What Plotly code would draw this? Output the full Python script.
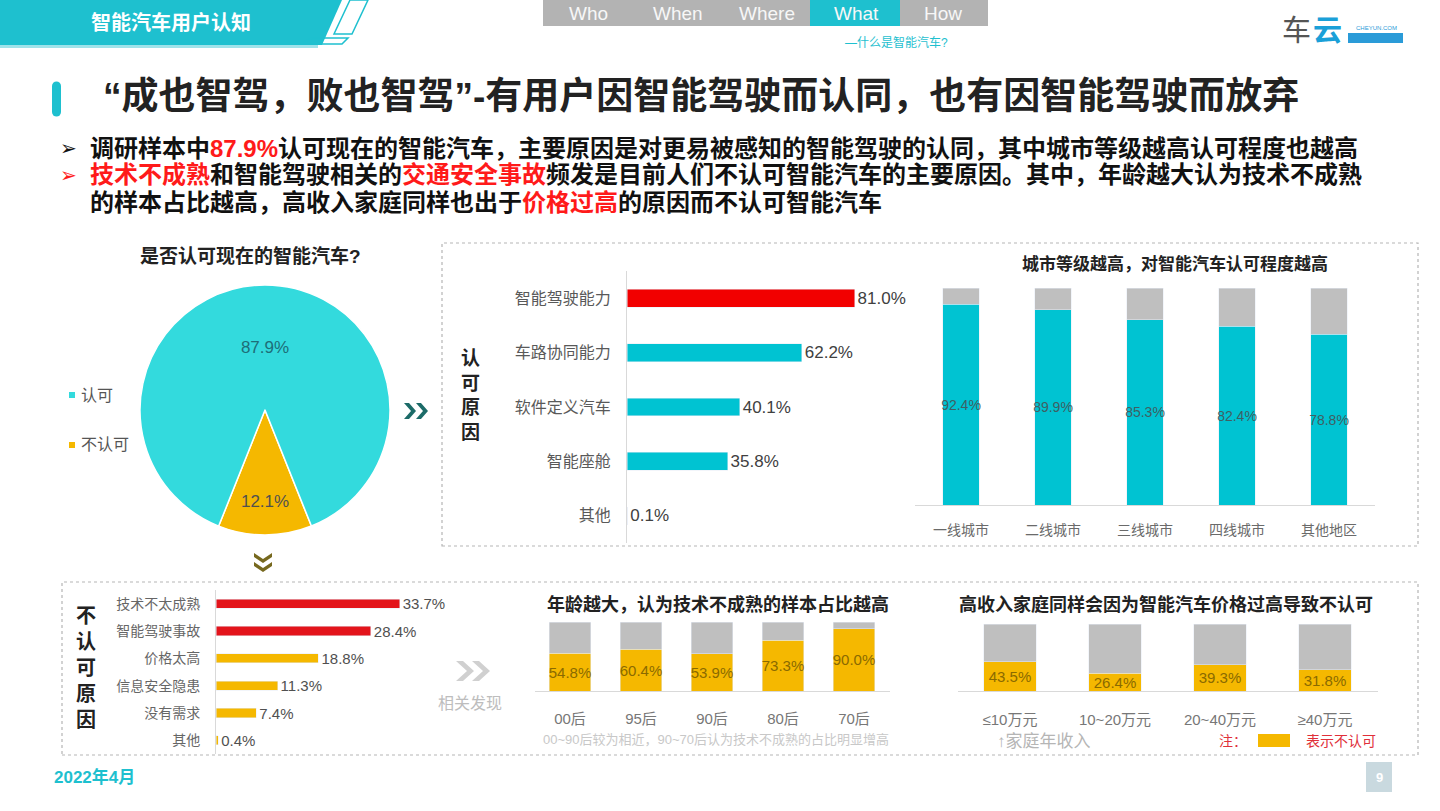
import plotly.graph_objects as go

# ---------------- data ----------------
pie_labels = ["不认可", "认可"]
pie_values = [12.1, 87.9]

approve_reasons = ["智能驾驶能力", "车路协同能力", "软件定义汽车", "智能座舱", "其他"]
approve_values = [81.0, 62.2, 40.1, 35.8, 0.1]

city_cats = ["一线城市", "二线城市", "三线城市", "四线城市", "其他地区"]
city_values = [92.4, 89.9, 85.3, 82.4, 78.8]

reject_reasons = ["技术不太成熟", "智能驾驶事故", "价格太高", "信息安全隐患", "没有需求", "其他"]
reject_values = [33.7, 28.4, 18.8, 11.3, 7.4, 0.4]

age_cats = ["00后", "95后", "90后", "80后", "70后"]
age_values = [54.8, 60.4, 53.9, 73.3, 90.0]

income_cats = ["≤10万元", "10~20万元", "20~40万元", "≥40万元"]
income_values = [43.5, 26.4, 39.3, 31.8]

nav_tabs = ["Who", "When", "Where", "What", "How"]

# ---------------- style ----------------
W, H = 1440, 811
FONT = "Liberation Sans, Noto Sans CJK SC, sans-serif"
TEAL = "#00C3D2"
PIE_TEAL = "#33DADD"
HEAD_TEAL = "#1EC0CF"
YEL = "#F5B800"
RED = "#F20000"
RED2 = "#E3141B"
GRAY = "#BFBFBF"
TXT_YEL = "#8A6A00"


def px(x):
    return x / W


def py(y):
    return 1 - y / H


fig = go.Figure()

# pie
fig.add_trace(go.Pie(
    labels=pie_labels, values=pie_values, sort=False, direction="clockwise",
    rotation=158.2,
    marker=dict(colors=[YEL, PIE_TEAL], line=dict(color="white", width=1.5)),
    texttemplate="%{value:.1f}%", textposition="inside",
    insidetextorientation="horizontal",
    textfont=dict(family=FONT, size=17, color=["#505050", "#1E6E78"]),
    domain=dict(x=[px(140), px(390)], y=[py(535), py(285)]),
    showlegend=False, hoverinfo="skip"))

# approve reasons
fig.add_trace(go.Bar(
    y=approve_reasons, x=approve_values, orientation="h",
    marker_color=[RED] + [TEAL] * (len(approve_values) - 1), width=0.33,
    texttemplate="%{x:.1f}%", textposition="outside", cliponaxis=False,
    constraintext="none",
    textfont=dict(family=FONT, size=17, color="#404040"),
    xaxis="x", yaxis="y", showlegend=False, hoverinfo="skip"))

# city
fig.add_trace(go.Bar(
    x=city_cats, y=city_values, marker_color=TEAL, width=0.4,
    texttemplate="%{y:.1f}%", textposition="inside", insidetextanchor="middle",
    textangle=0, constraintext="none",
    textfont=dict(family=FONT, size=14, color="#3F5F63"),
    xaxis="x2", yaxis="y2", showlegend=False, hoverinfo="skip"))
fig.add_trace(go.Bar(
    x=city_cats, y=[100 - v for v in city_values], marker_color=GRAY, width=0.4,
    xaxis="x2", yaxis="y2", showlegend=False, hoverinfo="skip"))

# reject reasons
fig.add_trace(go.Bar(
    y=reject_reasons, x=reject_values, orientation="h",
    marker_color=[RED2, RED2] + [YEL] * (len(reject_values) - 2), width=0.33,
    texttemplate="%{x:.1f}%", textposition="outside", cliponaxis=False,
    constraintext="none",
    textfont=dict(family=FONT, size=15, color="#505050"),
    xaxis="x3", yaxis="y3", showlegend=False, hoverinfo="skip"))

# age
fig.add_trace(go.Bar(
    x=age_cats, y=age_values, marker_color=YEL, width=0.59,
    texttemplate="%{y:.1f}%", textposition="inside", insidetextanchor="middle",
    textangle=0, constraintext="none",
    textfont=dict(family=FONT, size=15, color=TXT_YEL),
    xaxis="x4", yaxis="y4", showlegend=False, hoverinfo="skip"))
fig.add_trace(go.Bar(
    x=age_cats, y=[100 - v for v in age_values], marker_color=GRAY, width=0.59,
    xaxis="x4", yaxis="y4", showlegend=False, hoverinfo="skip"))

# income
fig.add_trace(go.Bar(
    x=income_cats, y=income_values, marker_color=YEL, width=0.5,
    texttemplate="%{y:.1f}%", textposition="inside", insidetextanchor="middle",
    textangle=0, constraintext="none",
    textfont=dict(family=FONT, size=15, color=TXT_YEL),
    xaxis="x5", yaxis="y5", showlegend=False, hoverinfo="skip"))
fig.add_trace(go.Bar(
    x=income_cats, y=[100 - v for v in income_values], marker_color=GRAY, width=0.5,
    xaxis="x5", yaxis="y5", showlegend=False, hoverinfo="skip"))

hidden = dict(showgrid=False, zeroline=False, showticklabels=False, showline=False, ticks="")
TR = "rgba(0,0,0,0)"


def cat_y(domain, size, color, anchor):
    return dict(domain=domain, autorange="reversed", showline=True, linecolor="#D9D9D9",
                linewidth=1, ticks="outside", ticklen=12, tickcolor=TR, showgrid=False,
                zeroline=False, tickfont=dict(family=FONT, size=size, color=color), anchor=anchor,
                fixedrange=True)


def cat_x(domain, size, color, anchor, tl):
    return dict(domain=domain, showline=True, linecolor="#D9D9D9", linewidth=1,
                ticks="outside", ticklen=tl, tickcolor=TR, showgrid=False, zeroline=False,
                tickfont=dict(family=FONT, size=size, color=color), anchor=anchor,
                fixedrange=True)


fig.update_layout(
    width=W, height=H, margin=dict(l=0, r=0, t=0, b=0),
    paper_bgcolor="white", plot_bgcolor="rgba(0,0,0,0)",
    barmode="stack", font=dict(family=FONT),
    xaxis=dict(domain=[px(627), px(908)], range=[0, 100], anchor="y", **hidden),
    yaxis=cat_y([py(543), py(271)], 16, "#595959", "x"),
    xaxis2=cat_x([px(915), px(1375)], 14, "#6A6A6A", "y2", 12),
    yaxis2=dict(domain=[py(505), py(288)], range=[0, 100], anchor="x2", **hidden),
    xaxis3=dict(domain=[px(216), px(434)], range=[0, 40], anchor="y3", **hidden),
    yaxis3=cat_y([py(754), py(590)], 14, "#666666", "x3"),
    xaxis4=cat_x([px(534.5), px(889.5)], 15, "#777777", "y4", 14),
    yaxis4=dict(domain=[py(691), py(622)], range=[0, 100], anchor="x4", **hidden),
    xaxis5=cat_x([px(957.5), px(1377.5)], 15, "#777777", "y5", 15),
    yaxis5=dict(domain=[py(691), py(624)], range=[0, 100], anchor="x5", **hidden),
)

shapes = []


def rect(x0, y0, x1, y1, fill, line=None, dash=None, lw=1, layer="below"):
    d = dict(type="rect", xref="paper", yref="paper", x0=px(x0), x1=px(x1), y0=py(y1), y1=py(y0),
             fillcolor=fill, layer=layer)
    if line:
        d["line"] = dict(color=line, width=lw, dash=dash) if dash else dict(color=line, width=lw)
    else:
        d["line"] = dict(width=0)
    shapes.append(d)


def path(pts, fill=None, line=None, lw=1, closed=True):
    s = "M " + " L ".join(f"{px(a):.5f},{py(b):.5f}" for a, b in pts) + (" Z" if closed else "")
    d = dict(type="path", xref="paper", yref="paper", path=s, layer="above")
    d["fillcolor"] = fill if fill else TR
    d["line"] = dict(color=line, width=lw) if line else dict(width=0)
    shapes.append(d)


def circle(xc, yc, r, fill):
    shapes.append(dict(type="circle", xref="paper", yref="paper", x0=px(xc - r), x1=px(xc + r),
                       y0=py(yc + r), y1=py(yc - r), fillcolor=fill, line=dict(width=0)))


def chev_right(x0, yc, w, h, t, color):
    path([(x0, yc - h), (x0 + t, yc - h), (x0 + t + w, yc), (x0 + t, yc + h), (x0, yc + h), (x0 + w, yc)], fill=color)


def chev_down(xc, y0, w, h, t, color):
    path([(xc - h, y0), (xc, y0 + w), (xc + h, y0), (xc + h, y0 + t), (xc, y0 + w + t), (xc - h, y0 + t)], fill=color)


# header band
path([(0, 0), (342, 0), (322, 45), (0, 45)], fill=HEAD_TEAL)
rect(0, 45, 318, 48, "#9FE3EA", layer="above")
path([(350, 0), (368, 0), (352, 34), (334, 34)], line=HEAD_TEAL, lw=1.5)
path([(300, 44), (312, 38), (348, 38), (342, 44)], line=HEAD_TEAL, lw=1.5)
# nav bar
rect(543, 0, 988, 26, "#B3B3B3")
rect(810, 0, 900, 26, HEAD_TEAL)
# title bar
rect(52, 86, 61, 112, HEAD_TEAL, layer="above")
circle(56.5, 86, 4.5, HEAD_TEAL)
circle(56.5, 112, 4.5, HEAD_TEAL)
# logo box
rect(1348, 33, 1403, 43, "#2A9BD8")
# dashed boxes
rect(442, 243, 1418, 546, TR, line="#B5B5B5", dash="dot", lw=1.2)
rect(62, 582, 1418, 755, TR, line="#B5B5B5", dash="dot", lw=1.2)
# pie legend squares
rect(69, 392, 75, 398, PIE_TEAL)
rect(69, 442, 75, 448, YEL)
# chevrons
chev_right(404, 411, 7, 8, 5, "#1C6B68")
chev_right(416, 411, 7, 8, 5, "#1C6B68")
chev_down(263, 553, 6, 9, 4, "#76681E")
chev_down(263, 562, 6, 9, 4, "#76681E")
chev_right(456, 671, 11, 10, 7, "#D0D0D0")
chev_right(472, 671, 11, 10, 7, "#D0D0D0")
# legend note swatch
rect(1258, 734, 1290, 747, YEL)
# page number
rect(1366, 762, 1392, 792, "#C9D9DF")

ann = []


def text(x, y, t, size, color="#333", bold=False, xa="center", ya="middle", family=FONT):
    if bold:
        t = "<b>" + t + "</b>"
    ann.append(dict(x=px(x), y=py(y), xref="paper", yref="paper", text=t, showarrow=False,
                    xanchor=xa, yanchor=ya, font=dict(family=family, size=size, color=color)))


RED_T = "#FF1A1A"


def red(s):
    return f"<span style='color:{RED_T}'>{s}</span>"


# header texts
text(171, 23, "智能汽车用户认知", 20, "white", bold=True)
tab_x = [588, 678, 767, 856, 943]
for tx, lab in zip(tab_x, nav_tabs):
    text(tx, 13, lab, 19, "#F7F7F7")
text(896, 42, "—什么是智能汽车?", 12, HEAD_TEAL)
text(1296, 31, "车", 29, "#555555")
text(1327, 31, "云", 29, "#1AA0D8", bold=True)
text(1376, 28, "CHEYUN.COM", 6, "#2A9BD8")

# title
text(101, 97, "“成也智驾，败也智驾”-有用户因智能驾驶而认同，也有因智能驾驶而放弃", 37, "#222222",
     bold=True, xa="left")

# bullets
text(58, 148, "<b>➢</b>", 20, "#111111", xa="left", family="DejaVu Sans")
text(58, 175, "<b>➢</b>", 20, RED_T, xa="left", family="DejaVu Sans")
text(88, 148, "调研样本中" + red("87.9%") + "认可现在的智能汽车，主要原因是对更易被感知的智能驾驶的认同，其中城市等级越高认可程度也越高",
     24, "#111111", bold=True, xa="left")
text(88, 175, red("技术不成熟") + "和智能驾驶相关的" + red("交通安全事故") + "频发是目前人们不认可智能汽车的主要原因。其中，年龄越大认为技术不成熟",
     24, "#111111", bold=True, xa="left")
text(88, 202, "的样本占比越高，高收入家庭同样也出于" + red("价格过高") + "的原因而不认可智能汽车",
     24, "#111111", bold=True, xa="left")

# pie block
text(250, 256, "是否认可现在的智能汽车?", 19, "#222222", bold=True)
text(79, 395, "认可", 16, "#555555", xa="left")
text(79, 445, "不认可", 16, "#555555", xa="left")

# approve block
text(470, 395, "认<br>可<br>原<br>因", 19, "#222222", bold=True)
text(1175, 264, "城市等级越高，对智能汽车认可程度越高", 17, "#222222", bold=True)

# reject block
text(86, 668, "不<br>认<br>可<br>原<br>因", 20, "#222222", bold=True)
text(470, 703, "相关发现", 16, "#BDBDBD")
text(718, 604, "年龄越大，认为技术不成熟的样本占比越高", 18, "#222222", bold=True)
text(716, 739, "00~90后较为相近，90~70后认为技术不成熟的占比明显增高", 13, "#C8C8C8")
text(1166, 604, "高收入家庭同样会因为智能汽车价格过高导致不认可", 18, "#222222", bold=True)
text(995, 741, "↑家庭年收入", 17, "#B5B5B5", xa="left")
text(1233, 741, "注：", 14, "#E0303A", xa="center")
text(1341, 741, "表示不认可", 14, "#E0303A", xa="center")

# footer
text(52, 777, "2022年4月", 17, HEAD_TEAL, bold=True, xa="left")
text(1379, 777, "9", 13, "white", bold=True)

fig.update_layout(shapes=shapes, annotations=ann)
fig.write_html(
    "out.html",
    config={"displayModeBar": False, "staticPlot": True},
    post_script="document.body.style.margin='0';document.body.style.overflow='hidden';")
